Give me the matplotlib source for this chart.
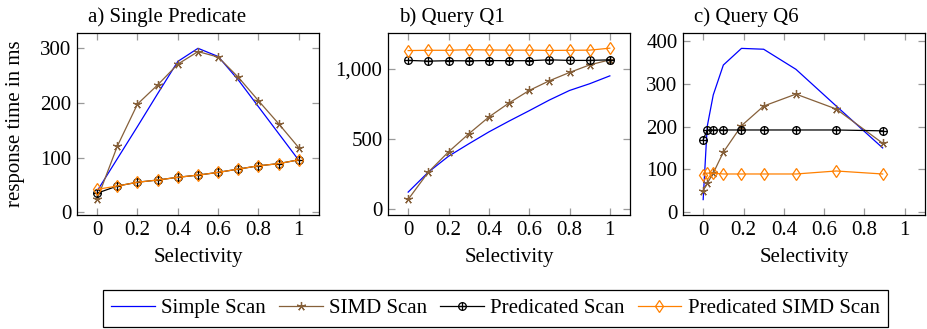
import numpy as np
import matplotlib
matplotlib.use('Agg')
import matplotlib.pyplot as plt
from matplotlib.path import Path
from matplotlib.ticker import FuncFormatter

plt.rcParams['font.family'] = ['Liberation Serif', 'DejaVu Serif']
plt.rcParams['font.size'] = 15
plt.rcParams['mathtext.fontset'] = 'stix'

# a) Single Predicate
sel_a = [0.0, 0.1, 0.2, 0.3, 0.4, 0.5, 0.6, 0.7, 0.8, 0.9, 1.0]
simple_a = [39, 98, 157, 217, 276, 300, 285, 242, 193, 144, 95]
simd_a = [24, 121, 198, 233, 271, 294, 284, 247, 204, 162, 118]
pred_a = [35, 48, 55, 59, 64, 68, 73, 79, 85, 89, 96]
predsimd_a = [42, 48, 55, 59, 64, 68, 73, 79, 85, 89, 96]

# b) Query Q1
sel_b = [0.0, 0.1, 0.2, 0.3, 0.4, 0.5, 0.6, 0.7, 0.8, 0.9, 1.0]
simple_b = [123, 265, 378, 466, 551, 628, 702, 778, 846, 894, 950]
simd_b = [71, 265, 409, 537, 657, 757, 846, 915, 974, 1028, 1064]
pred_b = [1060, 1055, 1058, 1057, 1059, 1058, 1058, 1064, 1060, 1060, 1064]
predsimd_b = [1130, 1132, 1132, 1136, 1134, 1133, 1133, 1131, 1132, 1133, 1147]

# c) Query Q6
sel_c = [0.0, 0.02, 0.05, 0.1, 0.19, 0.3, 0.46, 0.66, 0.89]
simple_c = [29, 200, 274, 344, 383, 381, 334, 248, 150]
simd_c = [50, 67, 91, 140, 202, 248, 276, 241, 161]
pred_c = [169, 192, 192, 192, 192, 192, 192, 192, 190]
predsimd_c = [87, 91, 91, 89, 89, 89, 89, 96, 89]

xticks = [0, 0.2, 0.4, 0.6, 0.8, 1]
xticklabels = ['0', '0.2', '0.4', '0.6', '0.8', '1']

blue = '#0000ff'
brown = '#86603a'
orange = '#ff8000'

# circle with plus (pgfplots oplus)
oplus = Path.make_compound_path(
    Path.unit_circle(),
    Path([[-1, 0], [1, 0]], [Path.MOVETO, Path.LINETO]),
    Path([[0, -1], [0, 1]], [Path.MOVETO, Path.LINETO]),
)

fig = plt.figure(figsize=(9.28, 3.29), dpi=100)
W, H = 928, 329
lefts = [77, 388, 683]
aw = 242
top, bot = 33, 215

panels = [
    ('a) Single Predicate', sel_a, simple_a, simd_a, pred_a, predsimd_a, (-5, 328), [0, 100, 200, 300]),
    ('b) Query Q1', sel_b, simple_b, simd_b, pred_b, predsimd_b, (-40, 1255), [0, 500, 1000]),
    ('c) Query Q6', sel_c, simple_c, simd_c, pred_c, predsimd_c, (-7, 419), [0, 100, 200, 300, 400]),
]

axes = []
for i, (title, x, s1, s2, s3, s4, ylim, yt) in enumerate(panels):
    ax = fig.add_axes([lefts[i] / W, 1 - bot / H, aw / W, (bot - top) / H])
    ax.plot(x, s1, color=blue, lw=0.9, label='Simple Scan')
    ax.plot(x, s2, color=brown, lw=0.9, marker=(5, 2, 0), ms=6.5,
            mew=0.9, label='SIMD Scan')
    ax.plot(x, s3, color='black', lw=0.9, marker=oplus, ms=5.5,
            mfc='none', mew=0.9, label='Predicated Scan')
    ax.plot(x, s4, color=orange, lw=0.9, marker='d', ms=6,
            mfc='none', mew=0.9, label='Predicated SIMD Scan')
    ax.set_xlim(-0.1, 1.1)
    ax.set_ylim(*ylim)
    ax.set_xticks(xticks)
    ax.set_xticklabels(xticklabels)
    ax.set_yticks(yt)
    if i == 1:
        ax.yaxis.set_major_formatter(FuncFormatter(lambda v, p: f'{int(v):,}'))
    ax.tick_params(direction='in', length=5, width=0.9, color='#9a9a9a',
                   top=True, right=True, pad=4)
    for sp in ax.spines.values():
        sp.set_linewidth(0.9)
    ax.set_xlabel('Selectivity', labelpad=6)
    ax.text(11 / aw, 1 + 11.3 / (bot - top), title, transform=ax.transAxes,
            ha='left', va='baseline')
    axes.append(ax)

axes[0].set_ylabel('response time in ms')
axes[0].yaxis.set_label_coords(-0.215, 0.5)

handles, labels = axes[0].get_legend_handles_labels()
fig.legend(handles, labels, loc='center', bbox_to_anchor=(495.5 / W, 1 - 308.5 / H),
           ncol=4, frameon=True, fancybox=False, edgecolor='black',
           handlelength=2.1, handletextpad=0.3, columnspacing=0.62,
           borderpad=0.4, framealpha=1)
fig.legends[0].get_frame().set_linewidth(0.9)

plt.savefig('out.png', dpi=100)
